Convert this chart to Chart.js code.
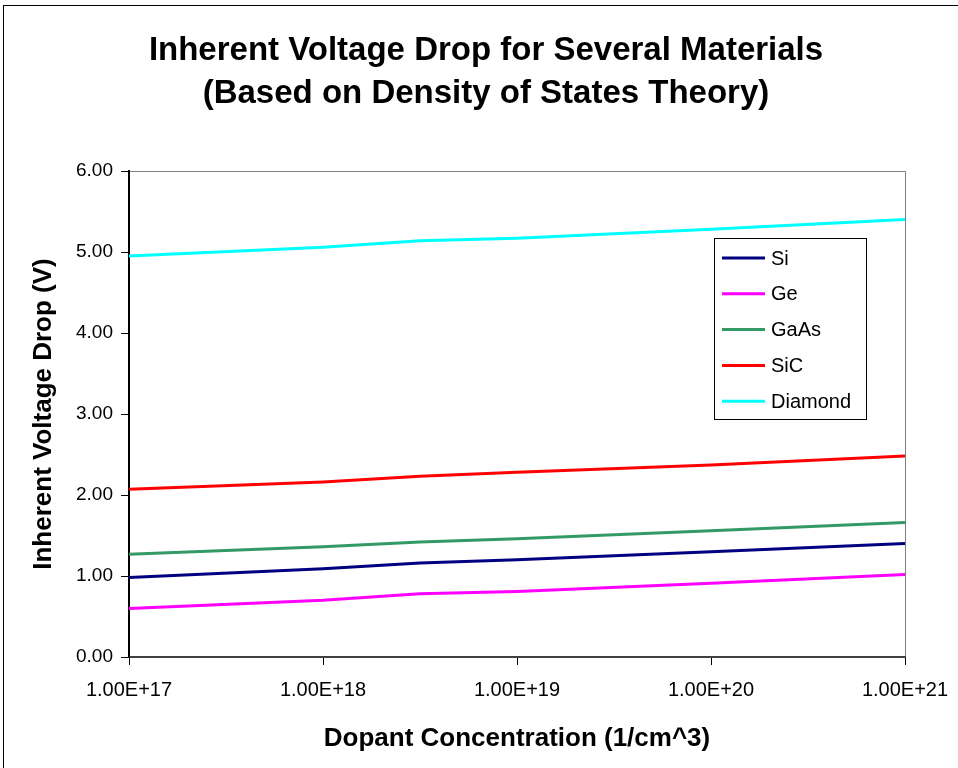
<!DOCTYPE html>
<html>
<head>
<meta charset="utf-8">
<script src="https://cdn.jsdelivr.net/npm/chart.js@4"></script>
<style>
  html, body { margin: 0; padding: 0; background: #fff; }
  #wrap { width: 958px; height: 768px; position: relative; }
</style>
</head>
<body>
<div id="wrap"><canvas id="chart" width="958" height="768"></canvas></div>
<script>
// dopant concentration (1/cm^3)
const dopant = [1e17, 1e18, 3.16e18, 1e19, 1e20, 1e21];
const xTicks = [1e17, 1e18, 1e19, 1e20, 1e21];

// voltage drop (V) per material
const siValues = [0.98, 1.09, 1.16, 1.20, 1.30, 1.40];
const geValues = [0.60, 0.70, 0.78, 0.81, 0.91, 1.02];
const gaasValues = [1.27, 1.36, 1.42, 1.46, 1.56, 1.66];
const sicValues = [2.07, 2.16, 2.23, 2.28, 2.37, 2.48];
const diamondValues = [4.95, 5.06, 5.14, 5.17, 5.28, 5.40];

const titleLines = ['Inherent Voltage Drop for Several Materials', '(Based on Density of States Theory)'];

const FONT = '"Liberation Sans", Arial, sans-serif';

const toPoints = vals => vals.map((v, i) => ({ x: dopant[i], y: v }));

const lineSet = (label, vals, color) => ({
    label: label,
    data: toPoints(vals),
    borderColor: color,
    backgroundColor: color,
    borderWidth: 3,
    pointRadius: 0,
    fill: false,
    tension: 0
});

// frame, plot border, titles and legend
const decorations = {
    id: 'decorations',
    beforeDraw(chart) {
        const ctx = chart.ctx;
        const a = chart.chartArea;
        ctx.save();
        ctx.fillStyle = '#fff';
        ctx.fillRect(0, 0, chart.width, chart.height);
        ctx.strokeStyle = '#000';
        ctx.lineWidth = 1;
        ctx.strokeRect(3.5, 5.5, chart.width + 10, chart.height + 10);
        ctx.strokeStyle = '#808080';
        ctx.strokeRect(a.left + 0.5, a.top + 0.5, a.right - a.left, a.bottom - a.top);
        ctx.restore();
    },
    afterDraw(chart) {
        const ctx = chart.ctx;
        ctx.save();
        // title
        ctx.fillStyle = '#000';
        ctx.font = 'bold 33px ' + FONT;
        ctx.textAlign = 'center';
        ctx.textBaseline = 'middle';
        ctx.fillText(titleLines[0], 486, 51);
        ctx.fillText(titleLines[1], 486, 94);

        // legend
        const box = { x: 714, y: 238, w: 152, h: 181 };
        ctx.fillStyle = '#fff';
        ctx.fillRect(box.x, box.y, box.w, box.h);
        ctx.strokeStyle = '#000';
        ctx.lineWidth = 1;
        ctx.strokeRect(box.x + 0.5, box.y + 0.5, box.w, box.h);
        ctx.font = '20px ' + FONT;
        ctx.textAlign = 'left';
        chart.data.datasets.forEach((ds, i) => {
            const y = 258 + i * 35.8;
            ctx.strokeStyle = ds.borderColor;
            ctx.lineWidth = 3;
            ctx.beginPath();
            ctx.moveTo(722, y);
            ctx.lineTo(765, y);
            ctx.stroke();
            ctx.fillStyle = '#000';
            ctx.fillText(ds.label, 771, y + 1);
        });
        ctx.restore();
    }
};

const ctx = document.getElementById('chart').getContext('2d');
new Chart(ctx, {
    type: 'line',
    data: {
        datasets: [
            lineSet('Si', siValues, '#000080'),
            lineSet('Ge', geValues, '#FF00FF'),
            lineSet('GaAs', gaasValues, '#339966'),
            lineSet('SiC', sicValues, '#FF0000'),
            lineSet('Diamond', diamondValues, '#00FFFF')
        ]
    },
    options: {
        responsive: false,
        animation: false,
        layout: { padding: { top: 171, right: 53, left: 0, bottom: 0 } },
        plugins: {
            legend: { display: false },
            title: { display: false },
            tooltip: { enabled: false }
        },
        scales: {
            x: {
                type: 'logarithmic',
                min: 1e17,
                max: 1e21,
                afterBuildTicks: scale => { scale.ticks = xTicks.map(v => ({ value: v })); },
                afterFit: scale => {
                    scale.height = 111;
                    scale.paddingLeft = 0;
                    scale.paddingRight = 0;
                },
                ticks: {
                    autoSkip: false,
                    maxRotation: 0,
                    padding: 13,
                    color: '#000',
                    font: { family: FONT, size: 20 },
                    callback: v => {
                        const e = Math.round(Math.log10(v));
                        return '1.00E+' + e;
                    }
                },
                grid: { drawOnChartArea: false, tickLength: 8, color: '#000' },
                border: { color: '#404040', width: 2 },
                title: {
                    display: true,
                    text: 'Dopant Concentration (1/cm^3)',
                    color: '#000',
                    font: { family: FONT, size: 26, weight: 'bold' },
                    padding: { top: 0, bottom: 14 }
                }
            },
            y: {
                min: 0,
                max: 6,
                afterFit: scale => {
                    scale.width = 129;
                    scale.paddingTop = 0;
                    scale.paddingBottom = 0;
                },
                ticks: {
                    stepSize: 1,
                    padding: 8,
                    color: '#000',
                    font: { family: FONT, size: 19 },
                    callback: v => v.toFixed(2)
                },
                grid: { drawOnChartArea: false, tickLength: 8, color: '#000' },
                border: { color: '#000', width: 2 },
                title: {
                    display: true,
                    text: 'Inherent Voltage Drop (V)',
                    color: '#000',
                    font: { family: FONT, size: 26, weight: 'bold' },
                    padding: { top: 28, bottom: 0 }
                }
            }
        }
    },
    plugins: [decorations]
});
</script>
</body>
</html>
